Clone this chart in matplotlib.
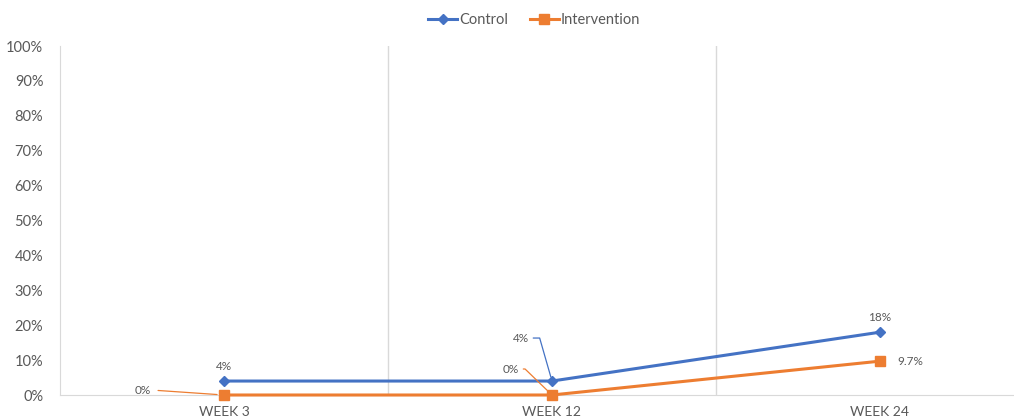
import matplotlib.pyplot as plt
from matplotlib.ticker import FuncFormatter

# data
weeks = ['WEEK 3', 'WEEK 12', 'WEEK 24']
control = [4, 4, 18]
intervention = [0, 0, 9.7]
control_labels = ['4%', '4%', '18%']
intervention_labels = ['0%', '0%', '9.7%']

blue = '#4472C4'
orange = '#ED7D31'
grey_txt = '#595959'
grid = '#D9D9D9'

plt.rcParams['font.family'] = ['Lato', 'DejaVu Sans']

fig = plt.figure(figsize=(10.14, 4.19), dpi=100)
ax = fig.add_axes([60/1014, 1 - 395/419, 984/1014, (395-46)/419])

x = list(range(len(weeks)))
ax.plot(x, control, color=blue, lw=2.2, marker='D', ms=5.5, label='Control', clip_on=False, zorder=3)
ax.plot(x, intervention, color=orange, lw=2.2, marker='s', ms=7.5, label='Intervention', clip_on=False, zorder=3)

ax.set_xlim(-0.5, 2.5)
ax.set_ylim(0, 100)
ax.set_yticks(range(0, 101, 10))
ax.yaxis.set_major_formatter(FuncFormatter(lambda v, p: '%d%%' % v))
ax.set_xticks(x)
ax.set_xticklabels(weeks, fontsize=10, color=grey_txt)
ax.tick_params(axis='y', labelsize=10.5, colors=grey_txt, length=0, pad=12)
ax.tick_params(axis='x', length=0, pad=8)

# category separators
for b in [0.5, 1.5]:
    ax.axvline(b, color=grid, lw=1, zorder=0)
for s in ['top', 'right']:
    ax.spines[s].set_visible(False)
ax.spines['left'].set_color(grid)
ax.spines['bottom'].set_color(grid)

# data labels (pixel offsets)
c_off = [(0, 15), (-31, 43), (0, 15)]
i_off = [(-81, 5), (-41, 26), (30, 0)]
for i in range(3):
    arrow = None
    if i == 1:
        arrow = dict(arrowstyle='-', color=blue, lw=0.9, shrinkA=1, shrinkB=3, relpos=(1, 0.5),
                     connectionstyle='angle,angleA=0,angleB=106,rad=0')
    ax.annotate(control_labels[i], xy=(x[i], control[i]), xytext=c_off[i], textcoords='offset pixels',
                ha='center', va='center', fontsize=8.5, color=grey_txt, arrowprops=arrow)
for i in range(3):
    arrow = None
    if i == 0:
        arrow = dict(arrowstyle='-', color=orange, lw=0.9, shrinkA=3, shrinkB=5, relpos=(1, 0.5))
    elif i == 1:
        arrow = dict(arrowstyle='-', color=orange, lw=0.9, shrinkA=1, shrinkB=5, relpos=(1, 0.5),
                     connectionstyle='angle,angleA=0,angleB=136,rad=0')
    ax.annotate(intervention_labels[i], xy=(x[i], intervention[i]), xytext=i_off[i], textcoords='offset pixels',
                ha='center', va='center', fontsize=8.5, color=grey_txt, arrowprops=arrow)

fig.legend(loc='upper center', bbox_to_anchor=(534/1014, 1.0), ncol=2, frameon=False,
           fontsize=10.5, handlelength=2.0, columnspacing=1.5, handletextpad=0.1,
           labelcolor=grey_txt)

fig.savefig('out.png', dpi=100)
